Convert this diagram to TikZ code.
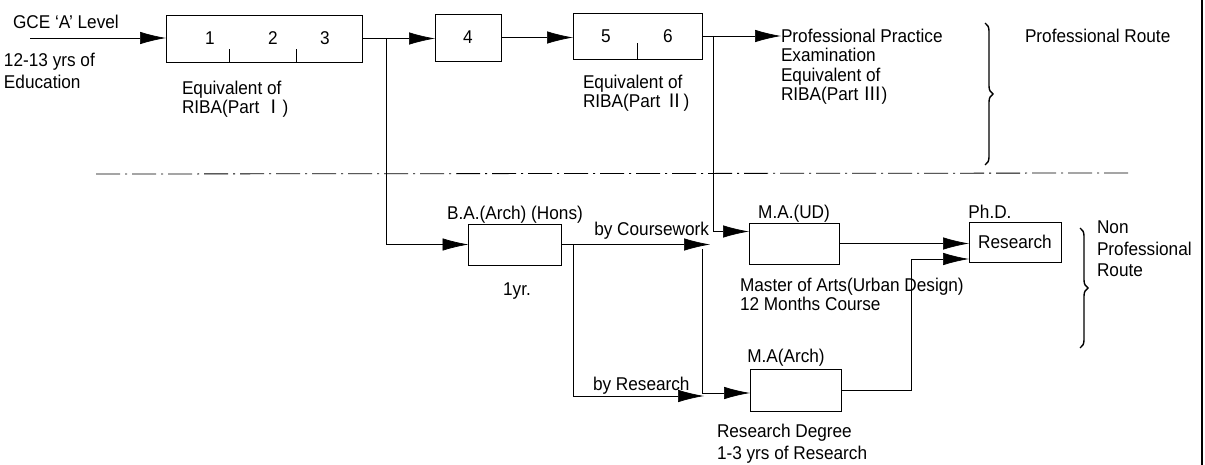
\documentclass[tikz,border=0pt]{standalone}
\usepackage{fontspec}
\setmainfont{Liberation Sans}[FakeStretch=0.93]
\newfontfamily\cjk{Noto Sans CJK KR}
\usetikzlibrary{arrows.meta,decorations.pathreplacing}
\begin{document}
\begin{tikzpicture}[x=1pt,y=-1pt,
  txt/.style={font=\fontsize{18.5}{19.5}\selectfont,inner sep=0pt,outer sep=0pt},
  box/.style={draw,line width=0.8pt,inner sep=0pt,outer sep=0pt,txt},
  conn/.style={line width=0.7pt},
  arr/.style={conn,-{Latex[length=26pt,width=12.5pt]}},
  blk/.style={txt,align=left,anchor=north west},
  brc/.style={line width=1.4pt,decorate,decoration={brace,amplitude=8pt}},
  dashdot/.style={line width=0.8pt,dash pattern=on 24pt off 5pt on 2pt off 5pt}
]
\useasboundingbox (0,0) rectangle (1205,465);
% boxes
\node[box,minimum width=196pt,minimum height=47pt] (b123) at (264,38.5) {};
\node[box,minimum width=66pt,minimum height=47pt] (b4) at (468,37.5) {4};
\node[box,minimum width=129pt,minimum height=46pt] (b56) at (637.5,36) {};
\node[box,minimum width=93pt,minimum height=41pt] (ba) at (515,244.5) {};
\node[box,minimum width=90pt,minimum height=41pt] (maud) at (794,243.5) {};
\node[box,minimum width=92pt,minimum height=40pt] (phd) at (1015,242) {Research};
\node[box,minimum width=91pt,minimum height=42pt] (maarch) at (795.5,390) {};
% numbers in boxes
\node[txt] (n1) at (210,38) {1};
\node[txt] (n2) at (273,38) {2};
\node[txt] (n3) at (325,38) {3};
\node[txt] (n5) at (606,36) {5};
\node[txt] (n6) at (668,36) {6};
\draw[conn] ([xshift=63pt]b123.south west) -- ++(0,-13);
\draw[conn] ([xshift=130pt]b123.south west) -- ++(0,-13);
\draw[conn] ([xshift=64pt]b56.south west) -- ++(0,-16);
% labels
\node[txt,anchor=base west] (gcet) at (13,28.6) {GCE ‘A’ Level};
\node[blk,font=\fontsize{18.5}{22}\selectfont] (edu) at (4,53) {12-13 yrs of\\Education};
\node[blk] (eq1) at (182,81) {Equivalent of\\RIBA(Part {\cjk Ⅰ})};
\node[blk] (eq2) at (583,75) {Equivalent of\\RIBA(Part {\cjk Ⅱ})};
\node[blk] (ppe) at (781,29) {Professional Practice\\Examination\\Equivalent of\\RIBA(Part {\cjk Ⅲ})};
\node[txt,anchor=base west] (pr) at (1025,42.6) {Professional Route};
\node[txt,anchor=base] (bal) at (515,219.6) {B.A.(Arch) (Hons)};
\node[txt,anchor=base] (oneyr) at (517,295) {1yr.};
\node[txt,anchor=base east] (bycw) at (709,236) {by Coursework};
\node[txt,anchor=base west] (byre) at (593,390) {by Research};
\node[txt,anchor=base] (maudl) at (794,218.6) {M.A.(UD)};
\node[blk] (mauddesc) at (740,278) {Master of Arts(Urban Design)\\12 Months Course};
\node[txt,anchor=base] (phdl) at (990,218.6) {Ph.D.};
\node[txt,anchor=base] (maarchl) at (786,362.6) {M.A(Arch)};
\node[blk,font=\fontsize{18.5}{22}\selectfont] (resdeg) at (717,424) {Research Degree\\1-3 yrs of Research};
\node[blk,font=\fontsize{18.5}{21.5}\selectfont] (npr) at (1097,221) {Non\\Professional\\Route};
% connectors
\coordinate (gce) at (30,38);
\draw[arr] (gce) -- (gce -| b123.west);
\draw[arr] (b123.east) -- (b123.east -| b4.west);
\draw[arr] (b4.east) -- (b4.east -| b56.west);
\draw[arr] (b56.east) -- (b56.east -| ppe.west);
\coordinate (j1) at (386,38.5);
\draw[arr] (j1) |- (ba.west);
\coordinate (j2) at (713,36);
\draw[arr] (j2) |- ([yshift=12pt]maud.west);
\coordinate (jc) at (710,244.5);
\draw[arr] (ba.east) -- (jc);
\coordinate (j3) at (573,244.5);
\coordinate (jr) at (704,396);
\draw[arr] (j3) |- (jr);
\coordinate (jv) at (702,249);
\draw[arr] (jv) |- ([yshift=-3pt]maarch.west);
\draw[arr] (maud.east) -- (maud.east -| phd.west);
\coordinate (j4) at (911,259);
\draw[conn] (maarch.east) -| (j4);
\draw[arr] (j4) -- (j4 -| phd.west);
% separators and braces
\coordinate (dl) at (96,174);
\coordinate (dr) at (1130,173);
\draw[dashdot] (dl) -- (dr);
\draw[brc] (985,23) -- (985,165);
\draw[brc] (1080,228) -- (1080,348);
\coordinate (bt) at (1202,0);
\coordinate (bb) at (1202,465);
\draw[line width=1.4pt] (bt) -- (bb);
\end{tikzpicture}
\end{document}
